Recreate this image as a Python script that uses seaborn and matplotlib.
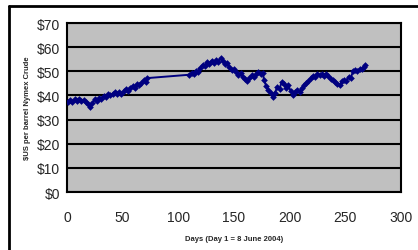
import matplotlib
matplotlib.use('Agg')
import matplotlib.pyplot as plt
from matplotlib.lines import Line2D
from matplotlib.ticker import FuncFormatter
import seaborn as sns
import pandas as pd

# --- DATA ---
days = [1, 3, 5, 7, 9, 11, 13, 15, 17, 19, 21, 23, 25, 27, 29, 31, 33, 35, 37, 39,
        41, 43, 45, 47, 49, 51, 53, 55, 57, 59, 61, 63, 65, 67, 69, 71, 72,
        110, 112, 114, 116, 118, 120, 122, 124, 126, 128, 130, 132, 134, 136, 138,
        140, 142, 144, 146, 148, 150, 152, 154, 156, 158, 160, 162, 164, 166, 168,
        170, 172, 174, 176, 177, 179, 181, 183, 185, 187, 189, 191, 193, 195, 197,
        199, 201, 203, 205, 207, 209, 211, 213, 215, 217, 219, 221, 223, 225, 227,
        229, 231, 233, 235, 237, 239, 241, 243, 245, 247, 249, 251, 253, 255, 257,
        259, 261, 263, 265, 267, 268]
prices = [37.5, 38.3, 37.2, 38.4, 37.9, 38.6, 37.6, 38.2, 37.4, 36.5, 35.2, 37.0, 38.4,
          37.9, 39.0, 38.6, 39.8, 39.2, 40.6, 40.0, 40.7, 41.4, 40.8, 41.3, 40.6, 41.8,
          42.6, 42.0, 43.2, 43.9, 43.3, 44.8, 44.2, 45.3, 46.4, 45.6, 47.2,
          48.6, 49.5, 48.9, 50.2, 49.8, 51.5, 52.8, 52.2, 53.9, 53.2, 54.5, 53.6, 54.8,
          54.0, 55.4, 54.5, 53.0, 53.6, 51.8, 50.4, 51.0, 49.6, 48.5, 49.2, 47.6, 46.9,
          46.2, 47.4, 48.3, 47.8, 49.0, 49.6, 49.0, 49.5, 46.5, 44.0, 42.3, 41.0, 39.4,
          41.2, 43.6, 42.8, 45.6, 44.6, 43.3, 44.2, 41.8, 40.2, 41.5, 42.4, 41.6, 43.2,
          44.4, 45.0, 45.8, 47.2, 48.0, 47.6, 48.8, 48.4, 49.0, 48.2, 48.8, 47.9, 46.9,
          46.3, 45.6, 44.9, 44.4, 45.8, 46.6, 45.9, 47.8, 47.3, 50.0, 50.6, 50.2, 51.0,
          50.9, 52.0, 52.6]
x_ticks = [0, 50, 100, 150, 200, 250, 300]
y_ticks = [0, 10, 20, 30, 40, 50, 60, 70]

df = pd.DataFrame({'day': days, 'price': prices})

sns.set_style('white')
plt.rcParams['font.family'] = ['Liberation Sans', 'DejaVu Sans']

fig = plt.figure(figsize=(4.18, 2.51), dpi=100)
ax = fig.add_axes([0.160, 0.231, 0.799, 0.673])
ax.set_facecolor('#C0C0C0')

# horizontal gridlines (Excel style)
for v in y_ticks:
    ax.axhline(v, color='black', lw=1.5, zorder=1)

sns.lineplot(data=df, x='day', y='price', ax=ax, color='#000080', lw=1.4,
             marker='D', markersize=3.4, markeredgewidth=0, zorder=3)

ax.set_xlim(0, 300)
ax.set_ylim(0, 70)
ax.set_xticks(x_ticks)
ax.set_yticks(y_ticks)
ax.yaxis.set_major_formatter(FuncFormatter(lambda v, p: f'${int(v)}'))
ax.tick_params(axis='both', direction='out', length=3, width=1.2, color='black',
               labelsize=10, pad=2)
ax.tick_params(axis='x', pad=10)
for s in ax.spines.values():
    s.set_color('black')
    s.set_linewidth(1.5)

ax.set_xlabel('Days (Day 1 = 8 June 2004)', fontsize=5.5, fontweight='bold', labelpad=8)
ax.set_ylabel('$US per barrel Nymex Crude', fontsize=5.5, fontweight='bold', labelpad=4)

# outer chart frame (top and left edges visible)
fig.add_artist(Line2D([9 / 418, 9 / 418], [0, 1 - 7 / 251], color='black', lw=2))
fig.add_artist(Line2D([9 / 418, 1], [1 - 7 / 251, 1 - 7 / 251], color='black', lw=2))

fig.savefig('out.png', dpi=100)
